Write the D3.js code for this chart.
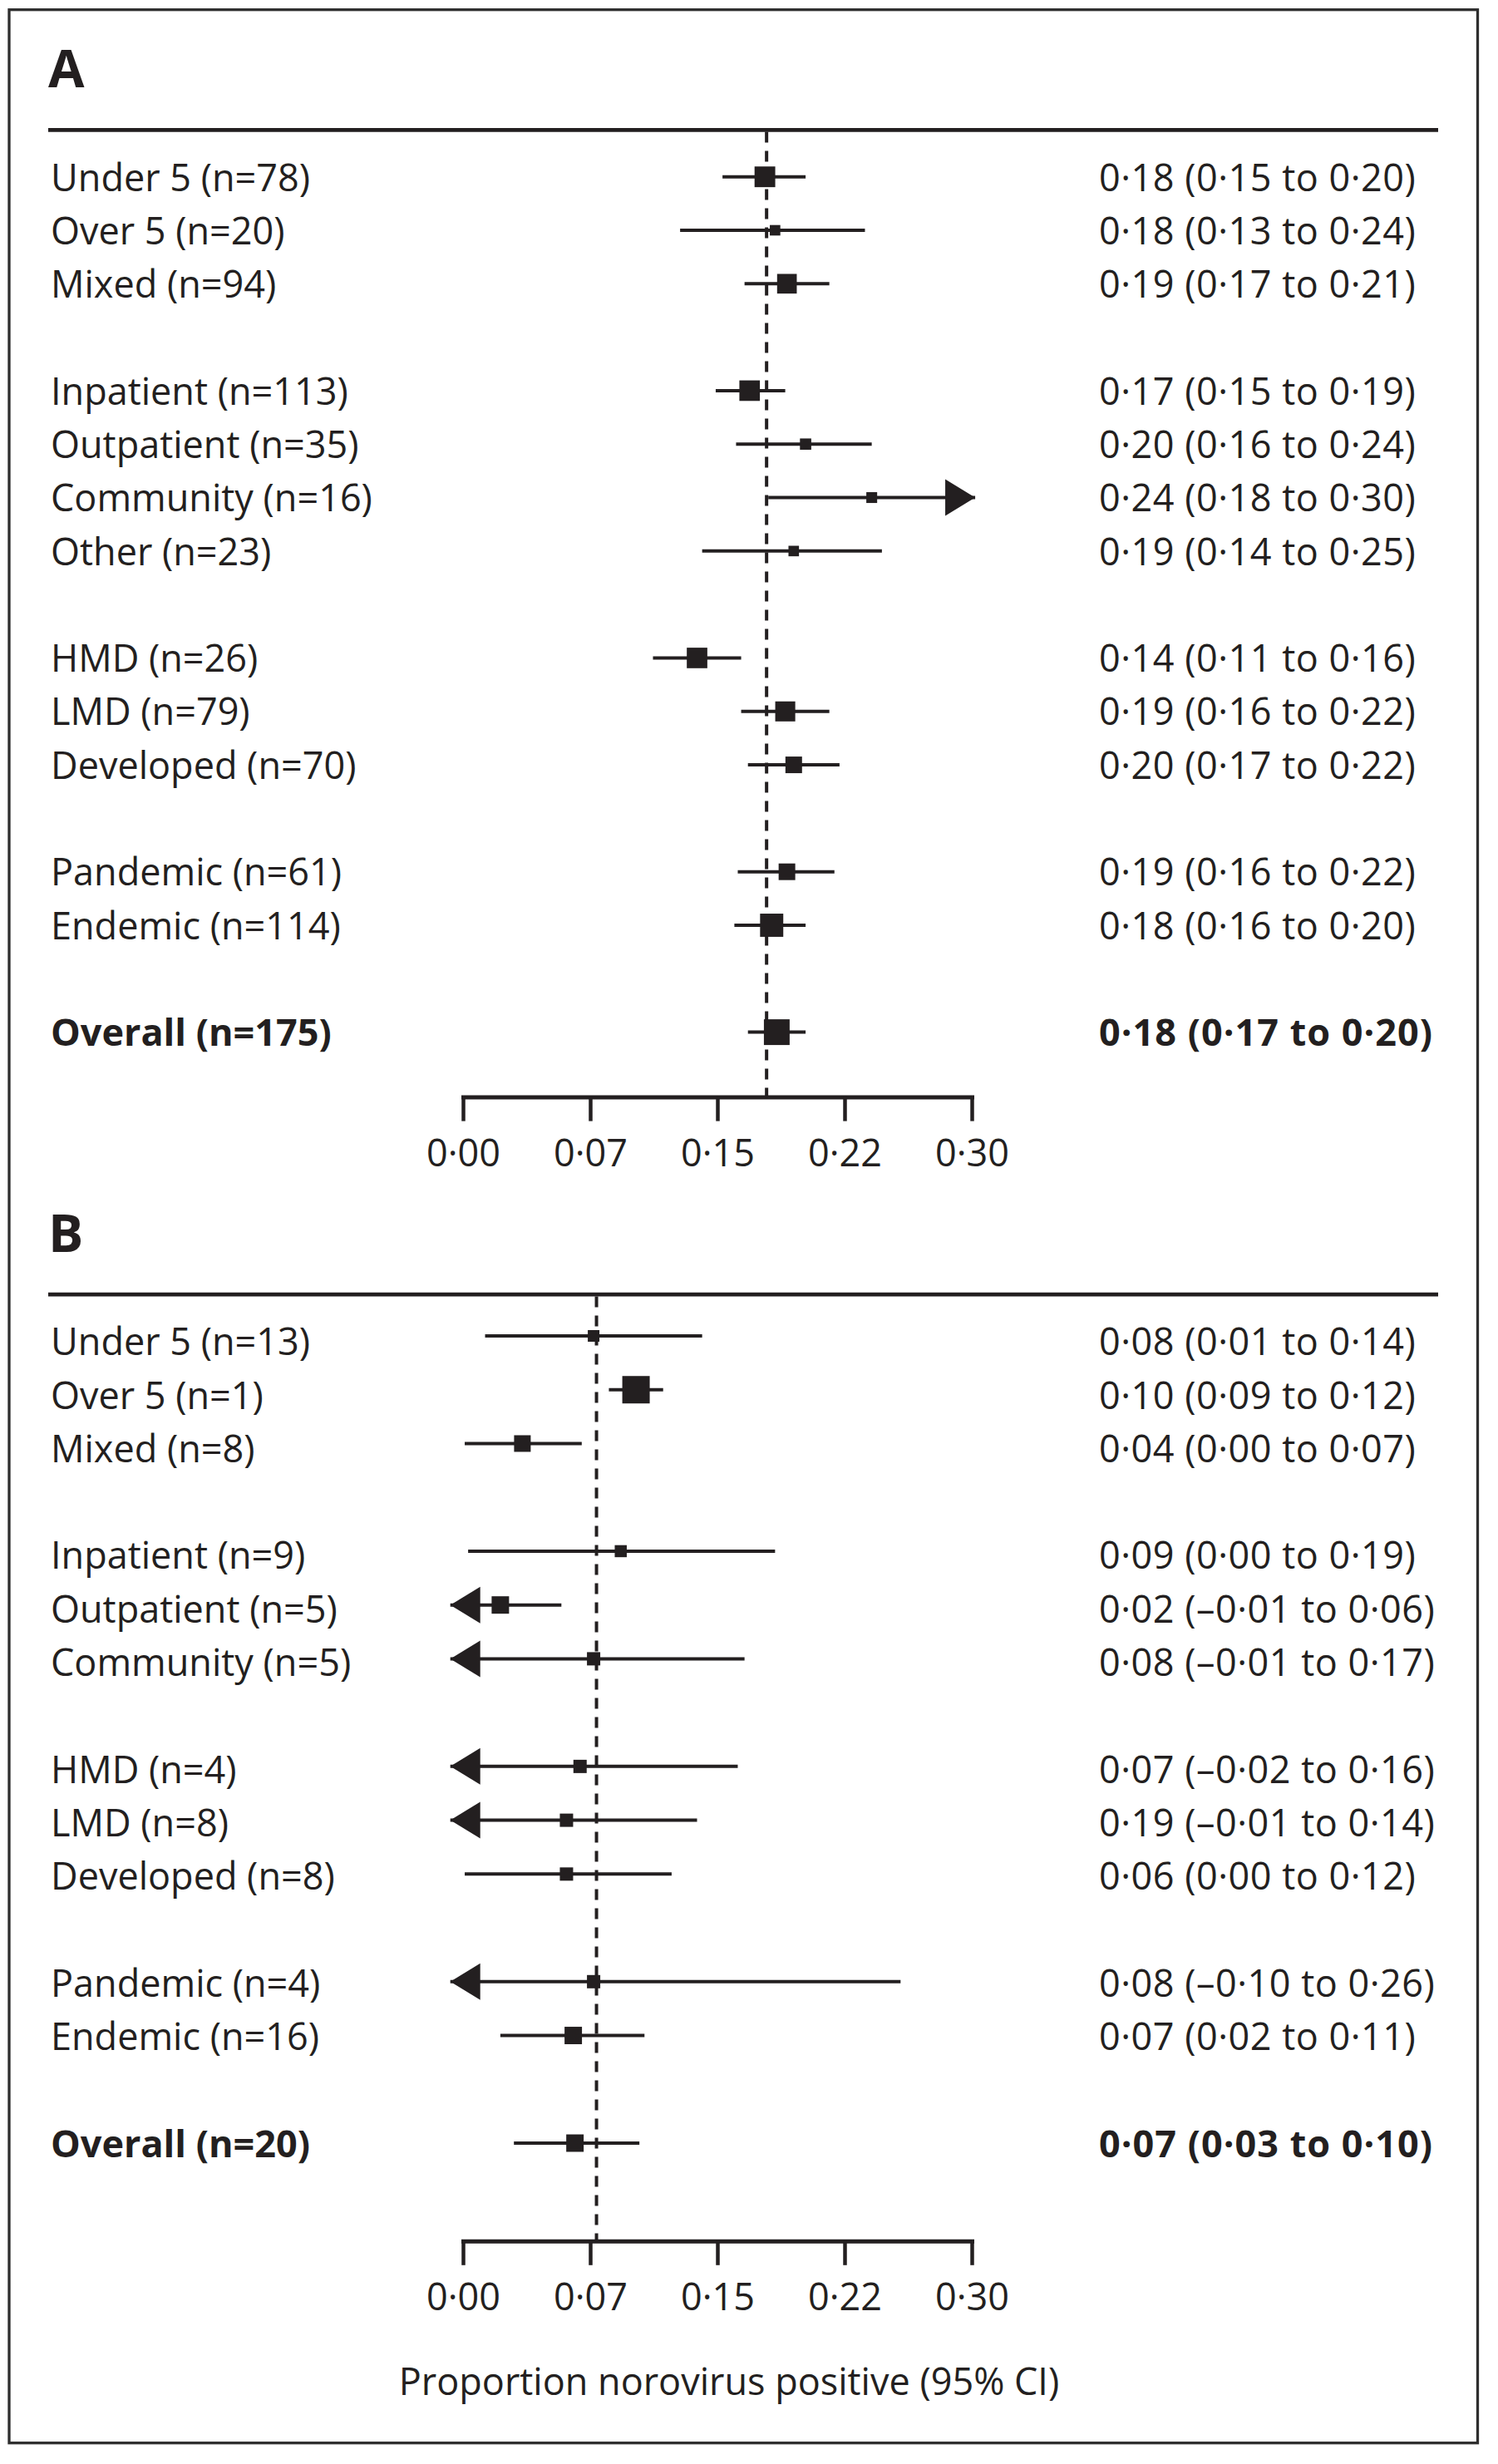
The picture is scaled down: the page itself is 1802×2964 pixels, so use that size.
<!DOCTYPE html>
<html><head><meta charset="utf-8">
<script src="https://cdn.jsdelivr.net/npm/d3@7"></script>
<style>body{margin:0;background:#fff} svg{display:block}</style>
</head><body><svg id="chart" width="1802" height="2964"></svg>
<script>
// ---------- data ----------
const panelTitles = ["A", "B"];

const labelsA = ["Under 5 (n=78)", "Over 5 (n=20)", "Mixed (n=94)",
  "Inpatient (n=113)", "Outpatient (n=35)", "Community (n=16)", "Other (n=23)",
  "HMD (n=26)", "LMD (n=79)", "Developed (n=70)",
  "Pandemic (n=61)", "Endemic (n=114)",
  "Overall (n=175)"];
const groupSizesA = [3, 4, 3, 2, 1];
const estA = [0.178, 0.184, 0.191, 0.169, 0.202, 0.241, 0.195, 0.138, 0.190, 0.195, 0.191, 0.182, 0.185];
const loA  = [0.153, 0.128, 0.166, 0.149, 0.161, 0.180, 0.141, 0.112, 0.164, 0.168, 0.162, 0.160, 0.168];
const hiA  = [0.202, 0.237, 0.216, 0.190, 0.241, 0.300, 0.247, 0.164, 0.216, 0.222, 0.219, 0.202, 0.202];
const weightA = [6.2, 1.6, 5.6, 6.1, 1.85, 1.7, 1.6, 6.1, 5.8, 4.0, 4.0, 7.8, 9.6];
const textA = ["0·18 (0·15 to 0·20)", "0·18 (0·13 to 0·24)", "0·19 (0·17 to 0·21)",
  "0·17 (0·15 to 0·19)", "0·20 (0·16 to 0·24)", "0·24 (0·18 to 0·30)", "0·19 (0·14 to 0·25)",
  "0·14 (0·11 to 0·16)", "0·19 (0·16 to 0·22)", "0·20 (0·17 to 0·22)",
  "0·19 (0·16 to 0·22)", "0·18 (0·16 to 0·20)",
  "0·18 (0·17 to 0·20)"];
const refA = 0.179;

const labelsB = ["Under 5 (n=13)", "Over 5 (n=1)", "Mixed (n=8)",
  "Inpatient (n=9)", "Outpatient (n=5)", "Community (n=5)",
  "HMD (n=4)", "LMD (n=8)", "Developed (n=8)",
  "Pandemic (n=4)", "Endemic (n=16)",
  "Overall (n=20)"];
const groupSizesB = [3, 3, 3, 2, 1];
const estB = [0.077, 0.102, 0.035, 0.093, 0.022, 0.077, 0.069, 0.061, 0.061, 0.077, 0.065, 0.066];
const loB  = [0.013, 0.086, 0.001, 0.003, -0.01, -0.01, -0.02, -0.01, 0.001, -0.10, 0.022, 0.030];
const hiB  = [0.141, 0.118, 0.070, 0.184, 0.058, 0.166, 0.162, 0.138, 0.123, 0.258, 0.107, 0.104];
const weightB = [1.96, 10.9, 4.0, 2.1, 4.4, 2.56, 2.56, 2.56, 2.56, 2.56, 4.4, 4.4];
const textB = ["0·08 (0·01 to 0·14)", "0·10 (0·09 to 0·12)", "0·04 (0·00 to 0·07)",
  "0·09 (0·00 to 0·19)", "0·02 (–0·01 to 0·06)", "0·08 (–0·01 to 0·17)",
  "0·07 (–0·02 to 0·16)", "0·19 (–0·01 to 0·14)", "0·06 (0·00 to 0·12)",
  "0·08 (–0·10 to 0·26)", "0·07 (0·02 to 0·11)",
  "0·07 (0·03 to 0·10)"];
const refB = 0.0787;

const tickValues = [0, 0.075, 0.15, 0.225, 0.30];
const tickLabels = ["0·00", "0·07", "0·15", "0·22", "0·30"];
const axisTitle = "Proportion norovirus positive (95% CI)";
const xDomain = [0, 0.30];
const clipLo = -0.0075, clipHi = 0.302;

// ---------- layout ----------
const INK = "#231f20";
const FONT = "'Open Sans', 'DejaVu Sans', sans-serif";
const FS = 45;
const svg = d3.select("#chart");
const x = d3.scaleLinear().domain(xDomain).range([557, 1169]);
const size = d3.scaleSqrt().domain([0, 10]).range([0, 31.6]);

svg.append("rect").attr("x", 11).attr("y", 11.7).attr("width", 1766.5).attr("height", 2927)
  .attr("fill", "none").attr("stroke", "#2e2e2e").attr("stroke-width", 3.3);

function rowIndices(groups) {
  const out = []; let i = 0;
  groups.forEach(g => { for (let k = 0; k < g; k++) out.push(i++); i++; });
  return out;
}

const panels = [
  {title: panelTitles[0], labels: labelsA, groups: groupSizesA, est: estA, lo: loA, hi: hiA, w: weightA, text: textA, ref: refA,
   titleBase: 105, header: 156.3, row0: 212.7, rowLast: 1241.6, text0: 213.3, textLast: 1242, axisY: 1319.6},
  {title: panelTitles[1], labels: labelsB, groups: groupSizesB, est: estB, lo: loB, hi: hiB, w: weightB, text: textB, ref: refB,
   titleBase: 1506, header: 1557.2, row0: 1607, rowLast: 2578, text0: 1614, textLast: 2578.5, axisY: 2695.8}
];

panels.forEach((p, pi) => {
  const g = svg.append("g");
  const idx = rowIndices(p.groups);
  const y = d3.scaleLinear().domain([0, d3.max(idx)]).range([p.row0, p.rowLast]);
  const yText = d3.scaleLinear().domain([0, d3.max(idx)]).range([p.text0, p.textLast]);
  const n = p.labels.length;

  g.append("text").attr("x", 58).attr("y", p.titleBase).text(p.title)
    .attr("font-family", FONT).attr("font-weight", 700).attr("font-size", 63).attr("fill", INK);

  g.append("line").attr("x1", 58).attr("x2", 1730).attr("y1", p.header).attr("y2", p.header)
    .attr("stroke", INK).attr("stroke-width", 4.7);

  // reference dashed line
  g.append("line").attr("x1", x(p.ref)).attr("x2", x(p.ref))
    .attr("y1", p.header + 2.3).attr("y2", p.axisY)
    .attr("stroke", INK).attr("stroke-width", 4).attr("stroke-dasharray", "13,10");

  const rows = d3.range(n).map(i => ({i, yy: y(idx[i]), ty: yText(idx[i]), bold: i === n - 1}));

  // labels
  g.selectAll("text.lab").data(rows).join("text").attr("class", "lab")
    .attr("x", 61).attr("y", d => d.ty + FS * 0.36)
    .attr("font-family", FONT).attr("font-size", FS).attr("fill", INK)
    .attr("font-weight", d => d.bold ? 700 : 500)
    .text(d => p.labels[d.i]);

  g.selectAll("text.est").data(rows).join("text").attr("class", "est")
    .attr("x", 1322).attr("y", d => d.ty + FS * 0.36)
    .attr("font-family", FONT).attr("font-size", FS).attr("fill", INK)
    .attr("font-weight", d => d.bold ? 700 : 500)
    .attr("letter-spacing", d => d.bold ? 1 : 0.5)
    .text(d => p.text[d.i]);

  // CI lines
  g.selectAll("line.ci").data(rows).join("line").attr("class", "ci")
    .attr("x1", d => p.lo[d.i] < xDomain[0] ? x(clipLo) : x(p.lo[d.i]))
    .attr("x2", d => p.hi[d.i] >= xDomain[1] ? x(clipHi) : x(p.hi[d.i]))
    .attr("y1", d => d.yy).attr("y2", d => d.yy)
    .attr("stroke", INK).attr("stroke-width", 4);

  // arrows
  const L = 36, H = 22;
  g.selectAll("path.arrL").data(rows.filter(d => p.lo[d.i] < xDomain[0])).join("path").attr("class", "arrL")
    .attr("d", d => { const t = x(clipLo); return `M${t},${d.yy}L${t + L},${d.yy - H}L${t + L},${d.yy + H}Z`; })
    .attr("fill", INK);
  g.selectAll("path.arrR").data(rows.filter(d => p.hi[d.i] >= xDomain[1])).join("path").attr("class", "arrR")
    .attr("d", d => { const t = x(clipHi); return `M${t},${d.yy}L${t - L},${d.yy - H}L${t - L},${d.yy + H}Z`; })
    .attr("fill", INK);

  // squares
  g.selectAll("rect.pt").data(rows).join("rect").attr("class", "pt")
    .attr("x", d => x(p.est[d.i]) - size(p.w[d.i]) / 2)
    .attr("y", d => d.yy - size(p.w[d.i]) / 2)
    .attr("width", d => size(p.w[d.i])).attr("height", d => size(p.w[d.i]))
    .attr("fill", INK);

  // axis
  const axis = d3.axisBottom(x).tickValues(tickValues).tickFormat((d, i) => tickLabels[i])
    .tickSize(29).tickSizeOuter(0).tickPadding(22);
  const ag = g.append("g").attr("transform", `translate(0,${p.axisY})`).call(axis);
  ag.select(".domain").attr("stroke", INK).attr("stroke-width", 5).attr("stroke-linecap", "square");
  ag.selectAll(".tick line").attr("stroke", INK).attr("stroke-width", 4.5);
  ag.selectAll(".tick text").attr("font-family", FONT).attr("font-size", FS).attr("fill", INK)
    .attr("font-weight", 500);
  ag.attr("font-family", FONT);

  if (pi === 1) {
    g.append("text").attr("x", 877).attr("y", 2880.7).attr("text-anchor", "middle")
      .attr("font-family", FONT).attr("font-size", FS).attr("font-weight", 500).attr("fill", INK).text(axisTitle);
  }
});
</script>
</body></html>
